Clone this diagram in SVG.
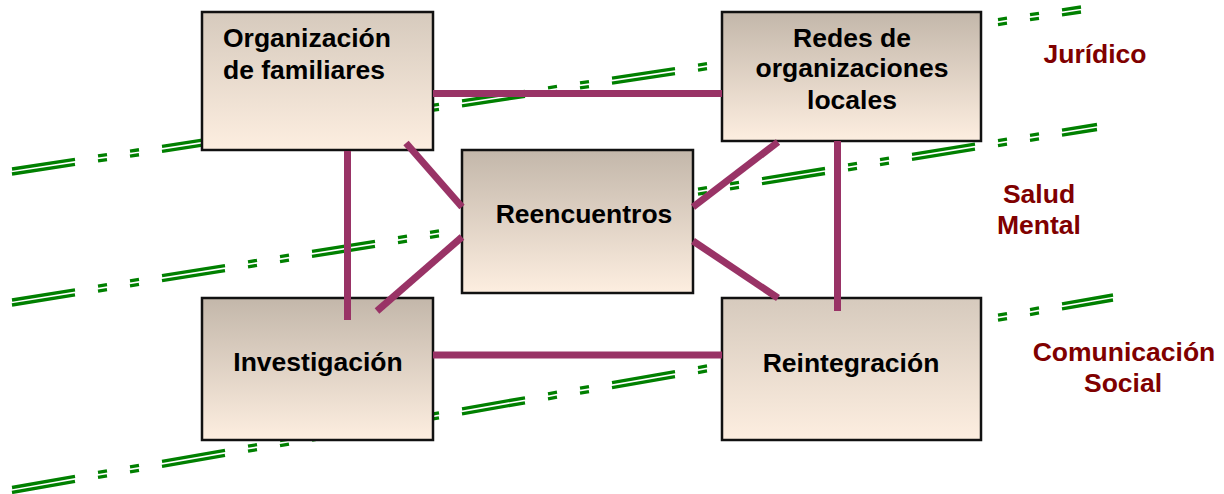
<svg xmlns="http://www.w3.org/2000/svg" width="1224" height="494" viewBox="0 0 1224 494">
<defs>
<linearGradient id="gA" x1="0" y1="0" x2="0" y2="1">
<stop offset="0" stop-color="#c3b7aa"/>
<stop offset="1" stop-color="#fdeee0"/>
</linearGradient>
<linearGradient id="gB" x1="0" y1="0" x2="0" y2="1">
<stop offset="0" stop-color="#d6cabd"/>
<stop offset="1" stop-color="#fdeee0"/>
</linearGradient>
</defs>
<style>
.band{fill:none;stroke:#008000;stroke-width:3.3;stroke-dasharray:63 23 9 23 9 23}
.box{stroke:#111;stroke-width:2.5}
.lbl{font-family:"Liberation Sans",Arial,sans-serif;font-weight:bold;font-size:26.5px;fill:#000}
.area{font-family:"Liberation Sans",Arial,sans-serif;font-weight:bold;font-size:26.5px;fill:#800000;text-anchor:middle}
.conn{stroke:#993366;stroke-width:7;fill:none}
</style>
<g id="bands">
<path class="band" pathLength="1069" d="M12,169 L1081,7"/>
<path class="band" pathLength="1069" d="M12,174 L1081,12"/>
<path class="band" pathLength="1085" d="M12,300 L1097,124.5"/>
<path class="band" pathLength="1085" d="M12,305 L1097,129.5"/>
<path class="band" pathLength="1101" d="M12,487.5 L1113,295"/>
<path class="band" pathLength="1101" d="M12,492.5 L1113,300"/>
</g>
<g id="n-org">
<rect class="box" x="202" y="12" width="231" height="138" fill="url(#gB)"/>
<text class="lbl" x="223" y="47">Organización</text>
<text class="lbl" x="223" y="79">de familiares</text>
</g>
<g id="n-redes">
<rect class="box" x="722" y="12" width="259" height="129" fill="url(#gA)"/>
<text class="lbl" x="852" y="47" text-anchor="middle">Redes de</text>
<text class="lbl" x="852" y="77" text-anchor="middle">organizaciones</text>
<text class="lbl" x="852" y="109" text-anchor="middle">locales</text>
</g>
<g id="n-reenc">
<rect class="box" x="462" y="150" width="231" height="143" fill="url(#gA)"/>
<text class="lbl" x="584" y="223" text-anchor="middle">Reencuentros</text>
</g>
<g id="n-invest">
<rect class="box" x="202" y="298" width="231" height="142" fill="url(#gA)"/>
<text class="lbl" x="318" y="371" text-anchor="middle">Investigación</text>
</g>
<g id="n-reint">
<rect class="box" x="722" y="298" width="259" height="142" fill="url(#gB)"/>
<text class="lbl" x="851" y="372" text-anchor="middle">Reintegración</text>
</g>
<g id="connectors">
<line class="conn" x1="433" y1="93.5" x2="722" y2="93.5"/>
<line class="conn" x1="433" y1="355" x2="722" y2="355"/>
<line class="conn" x1="347.5" y1="151" x2="347.5" y2="320"/>
<line class="conn" x1="837.5" y1="141" x2="837.5" y2="311"/>
<line class="conn" x1="406" y1="143" x2="462" y2="207"/>
<line class="conn" x1="377" y1="311" x2="462" y2="237"/>
<line class="conn" x1="693" y1="207" x2="778" y2="142"/>
<line class="conn" x1="693" y1="241" x2="778" y2="298"/>
</g>
<g id="areas">
<text class="area" x="1095" y="63">Jurídico</text>
<text class="area" x="1039" y="203">Salud</text>
<text class="area" x="1039" y="234">Mental</text>
<text class="area" x="1124" y="361">Comunicación</text>
<text class="area" x="1123" y="392">Social</text>
</g>
</svg>
